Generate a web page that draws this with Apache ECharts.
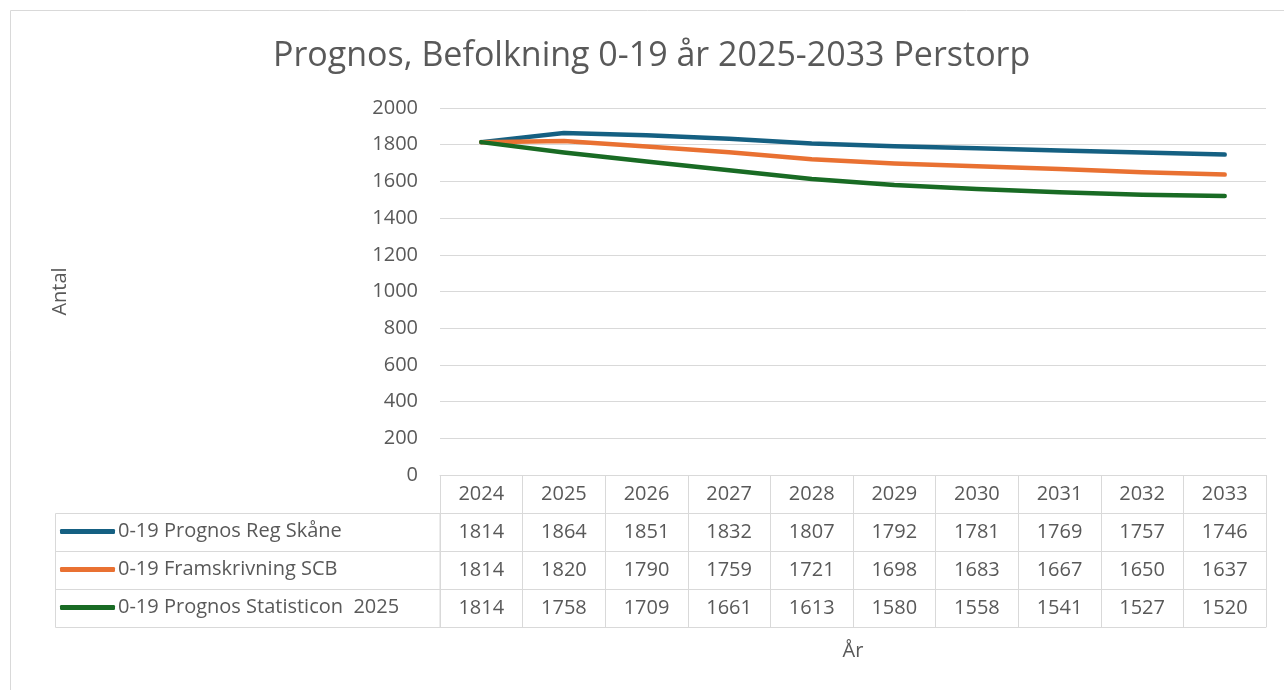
<!DOCTYPE html>
<html>
<head>
<meta charset="utf-8">
<script src="https://cdn.jsdelivr.net/npm/echarts@6/dist/echarts.min.js"></script>
<style>
  html, body { margin: 0; padding: 0; background: #fff; }
  #container { width: 1284px; height: 690px; }
</style>
</head>
<body>
<div id="container"></div>
<script>
var years = ['2024', '2025', '2026', '2027', '2028', '2029', '2030', '2031', '2032', '2033'];
var regSkane = [1814, 1864, 1851, 1832, 1807, 1792, 1781, 1769, 1757, 1746];
var scb = [1814, 1820, 1790, 1759, 1721, 1698, 1683, 1667, 1650, 1637];
var statisticon = [1814, 1758, 1709, 1661, 1613, 1580, 1558, 1541, 1527, 1520];
var seriesNames = ['0-19 Prognos Reg Skåne', '0-19 Framskrivning SCB', '0-19 Prognos Statisticon  2025'];
var colors = ['#156082', '#E97132', '#196B24'];

var font = 'Open Sans';
var textColor = '#595959';
var border = '#d9d9d9';
var rowH = 38;

var myChart = echarts.init(document.getElementById('container'));

// one category axis per table row, stacked below the plot
function tableAxis(data, row) {
    return {
        type: 'category',
        gridIndex: 0,
        position: 'bottom',
        offset: row * rowH,
        data: data,
        boundaryGap: true,
        axisLine: { show: true, lineStyle: { color: border, width: 1 } },
        axisTick: { show: true, interval: 0, length: rowH, lineStyle: { color: border } },
        axisLabel: { show: true, interval: 0, margin: 9, color: textColor, fontSize: 20, fontFamily: font },
        splitLine: { show: false }
    };
}

var option = {
    animation: false,
    color: colors,
    title: {
        text: 'Prognos, Befolkning 0-19 år 2025-2033 Perstorp',
        left: 268,
        top: 34,
        textStyle: { color: textColor, fontSize: 34, fontWeight: 'normal', fontFamily: font }
    },
    legend: {
        orient: 'vertical',
        left: 60,
        top: 521,
        padding: 0,
        itemWidth: 55,
        itemHeight: 5,
        itemGap: 17,
        icon: 'roundRect',
        textStyle: { color: textColor, fontSize: 20, fontFamily: font, lineHeight: 21, padding: [0, 0, 0, -2] },
        data: seriesNames
    },
    grid: { left: 440, right: 18, top: 108, bottom: 215 },
    xAxis: [
        tableAxis(years, 0),
        tableAxis(regSkane.map(String), 1),
        tableAxis(scb.map(String), 2),
        tableAxis(statisticon.map(String), 3),
        {
            type: 'category',
            position: 'bottom',
            offset: 4 * rowH,
            data: years,
            axisLine: { show: true, lineStyle: { color: border } },
            axisTick: { show: false },
            axisLabel: { show: false },
            name: 'År',
            nameLocation: 'middle',
            nameGap: 14,
            nameTextStyle: { color: textColor, fontSize: 20, fontFamily: font }
        }
    ],
    yAxis: {
        type: 'value',
        min: 0,
        max: 2000,
        interval: 200,
        name: 'Antal',
        nameLocation: 'middle',
        nameRotate: 90,
        nameGap: 370,
        nameTextStyle: { color: textColor, fontSize: 20, fontFamily: font },
        axisLine: { show: false },
        axisTick: { show: false },
        axisLabel: { color: textColor, fontSize: 20, fontFamily: font, margin: 22, formatter: function (v) { return String(v); } },
        splitLine: { lineStyle: { color: border, width: 1 } }
    },
    series: [
        { name: seriesNames[0], type: 'line', data: regSkane },
        { name: seriesNames[1], type: 'line', data: scb },
        { name: seriesNames[2], type: 'line', data: statisticon }
    ].map(function (s, i) {
        s.xAxisIndex = 0;
        s.symbol = 'none';
        s.lineStyle = { color: colors[i], width: 4.5, cap: 'round', join: 'round' };
        s.itemStyle = { color: colors[i] };
        return s;
    }),
    graphic: [
        // chart frame
        { type: 'rect', shape: { x: 10.5, y: 10.5, width: 1290, height: 700 }, style: { fill: 'none', stroke: border, lineWidth: 1 }, silent: true },
        // legend column of the data table
        { type: 'rect', shape: { x: 55.5, y: 475 + rowH + 0.5, width: 384.5, height: 3 * rowH }, style: { fill: 'none', stroke: border, lineWidth: 1 }, silent: true },
        { type: 'line', shape: { x1: 55.5, y1: 475 + 2 * rowH + 0.5, x2: 440, y2: 475 + 2 * rowH + 0.5 }, style: { stroke: border, lineWidth: 1 }, silent: true },
        { type: 'line', shape: { x1: 55.5, y1: 475 + 3 * rowH + 0.5, x2: 440, y2: 475 + 3 * rowH + 0.5 }, style: { stroke: border, lineWidth: 1 }, silent: true }
    ]
};

if (option && typeof option === 'object') {
    myChart.setOption(option, true);
}
</script>
</body>
</html>
